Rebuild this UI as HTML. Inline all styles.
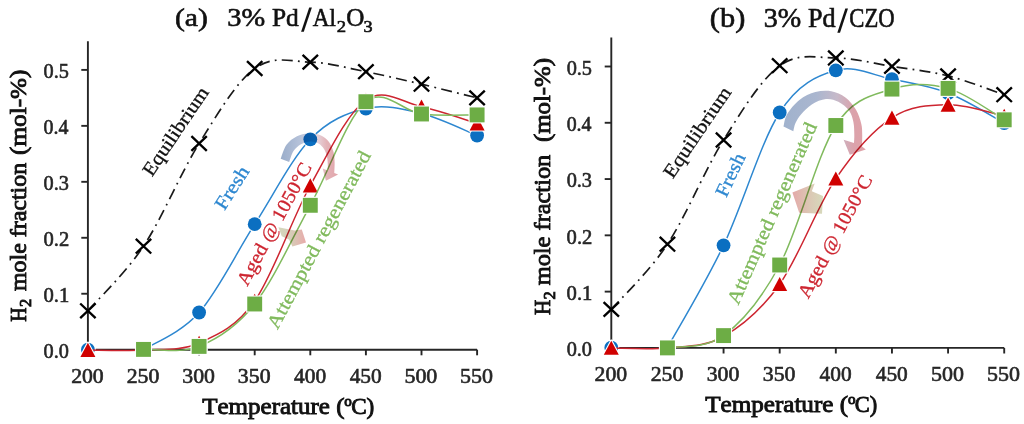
<!DOCTYPE html>
<html><head><meta charset="utf-8"><style>
html,body{margin:0;padding:0;background:#fff;}
svg{display:block;will-change:transform;}
text{font-family:"Liberation Serif",serif;font-kerning:none;}
</style></head><body>
<svg width="1024" height="424" viewBox="0 0 1024 424">
<defs>
<linearGradient id="gA" x1="0" y1="0" x2="1" y2="0"><stop offset="0" stop-color="#9aadca"/><stop offset="0.35" stop-color="#b7c3da"/><stop offset="0.6" stop-color="#e6dbe3"/><stop offset="0.8" stop-color="#e3b3b8"/><stop offset="1" stop-color="#e2a5aa"/></linearGradient>
<linearGradient id="gB" x1="0" y1="0" x2="1" y2="0"><stop offset="0" stop-color="#a0b2cd"/><stop offset="0.4" stop-color="#aab6cf"/><stop offset="0.65" stop-color="#c6b9c9"/><stop offset="0.85" stop-color="#dba2ab"/><stop offset="1" stop-color="#e0a2a8"/></linearGradient>
<linearGradient id="gS1" x1="0" y1="0" x2="1" y2="0"><stop offset="0" stop-color="#d3d8bc"/><stop offset="0.45" stop-color="#d6cdb8"/><stop offset="1" stop-color="#e8aaaa"/></linearGradient>
<linearGradient id="gS2" x1="0" y1="0" x2="1" y2="0"><stop offset="0" stop-color="#e4a9a9"/><stop offset="0.55" stop-color="#dcc7b4"/><stop offset="1" stop-color="#d6d9bb"/></linearGradient>
</defs>
<path d="M87.9,41.3 L87.9,349.7 L477.10,349.7" stroke="#262626" stroke-width="1.9" fill="none"/>
<line x1="81.30" y1="349.70" x2="87.9" y2="349.70" stroke="#262626" stroke-width="1.9"/>
<text x="43.53" y="358.10" font-size="20.8" font-weight="normal" fill="#262626" textLength="25.34" lengthAdjust="spacingAndGlyphs" stroke="#262626" stroke-width="0.6">0.0</text>
<line x1="81.30" y1="293.74" x2="87.9" y2="293.74" stroke="#262626" stroke-width="1.9"/>
<text x="43.51" y="302.14" font-size="20.8" font-weight="normal" fill="#262626" textLength="25.83" lengthAdjust="spacingAndGlyphs" stroke="#262626" stroke-width="0.6">0.1</text>
<line x1="81.30" y1="237.78" x2="87.9" y2="237.78" stroke="#262626" stroke-width="1.9"/>
<text x="43.52" y="246.18" font-size="20.8" font-weight="normal" fill="#262626" textLength="25.72" lengthAdjust="spacingAndGlyphs" stroke="#262626" stroke-width="0.6">0.2</text>
<line x1="81.30" y1="181.82" x2="87.9" y2="181.82" stroke="#262626" stroke-width="1.9"/>
<text x="43.53" y="190.22" font-size="20.8" font-weight="normal" fill="#262626" textLength="25.37" lengthAdjust="spacingAndGlyphs" stroke="#262626" stroke-width="0.6">0.3</text>
<line x1="81.30" y1="125.86" x2="87.9" y2="125.86" stroke="#262626" stroke-width="1.9"/>
<text x="43.54" y="134.26" font-size="20.8" font-weight="normal" fill="#262626" textLength="24.87" lengthAdjust="spacingAndGlyphs" stroke="#262626" stroke-width="0.6">0.4</text>
<line x1="81.30" y1="69.90" x2="87.9" y2="69.90" stroke="#262626" stroke-width="1.9"/>
<text x="43.53" y="78.30" font-size="20.8" font-weight="normal" fill="#262626" textLength="25.37" lengthAdjust="spacingAndGlyphs" stroke="#262626" stroke-width="0.6">0.5</text>
<line x1="87.90" y1="349.7" x2="87.90" y2="355.30" stroke="#262626" stroke-width="1.9"/>
<text x="71.15" y="382.70" font-size="20.6" font-weight="normal" fill="#262626" textLength="32.58" lengthAdjust="spacingAndGlyphs" stroke="#262626" stroke-width="0.6">200</text>
<line x1="143.50" y1="349.7" x2="143.50" y2="355.30" stroke="#262626" stroke-width="1.9"/>
<text x="126.75" y="382.70" font-size="20.6" font-weight="normal" fill="#262626" textLength="32.58" lengthAdjust="spacingAndGlyphs" stroke="#262626" stroke-width="0.6">250</text>
<line x1="199.10" y1="349.7" x2="199.10" y2="355.30" stroke="#262626" stroke-width="1.9"/>
<text x="182.26" y="382.70" font-size="20.6" font-weight="normal" fill="#262626" textLength="32.67" lengthAdjust="spacingAndGlyphs" stroke="#262626" stroke-width="0.6">300</text>
<line x1="254.70" y1="349.7" x2="254.70" y2="355.30" stroke="#262626" stroke-width="1.9"/>
<text x="237.86" y="382.70" font-size="20.6" font-weight="normal" fill="#262626" textLength="32.67" lengthAdjust="spacingAndGlyphs" stroke="#262626" stroke-width="0.6">350</text>
<line x1="310.30" y1="349.7" x2="310.30" y2="355.30" stroke="#262626" stroke-width="1.9"/>
<text x="294.08" y="382.70" font-size="20.6" font-weight="normal" fill="#262626" textLength="32.03" lengthAdjust="spacingAndGlyphs" stroke="#262626" stroke-width="0.6">400</text>
<line x1="365.90" y1="349.7" x2="365.90" y2="355.30" stroke="#262626" stroke-width="1.9"/>
<text x="349.68" y="382.70" font-size="20.6" font-weight="normal" fill="#262626" textLength="32.03" lengthAdjust="spacingAndGlyphs" stroke="#262626" stroke-width="0.6">450</text>
<line x1="421.50" y1="349.7" x2="421.50" y2="355.30" stroke="#262626" stroke-width="1.9"/>
<text x="404.43" y="382.70" font-size="20.6" font-weight="normal" fill="#262626" textLength="32.91" lengthAdjust="spacingAndGlyphs" stroke="#262626" stroke-width="0.6">500</text>
<line x1="477.10" y1="349.7" x2="477.10" y2="355.30" stroke="#262626" stroke-width="1.9"/>
<text x="460.03" y="382.70" font-size="20.6" font-weight="normal" fill="#262626" textLength="32.91" lengthAdjust="spacingAndGlyphs" stroke="#262626" stroke-width="0.6">550</text>
<path d="M611.3,37.5 L611.3,347.9 L1004.21,347.9" stroke="#262626" stroke-width="1.9" fill="none"/>
<line x1="604.70" y1="347.90" x2="611.3" y2="347.90" stroke="#262626" stroke-width="1.9"/>
<text x="566.63" y="356.30" font-size="20.8" font-weight="normal" fill="#262626" textLength="25.34" lengthAdjust="spacingAndGlyphs" stroke="#262626" stroke-width="0.6">0.0</text>
<line x1="604.70" y1="291.62" x2="611.3" y2="291.62" stroke="#262626" stroke-width="1.9"/>
<text x="566.61" y="300.02" font-size="20.8" font-weight="normal" fill="#262626" textLength="25.83" lengthAdjust="spacingAndGlyphs" stroke="#262626" stroke-width="0.6">0.1</text>
<line x1="604.70" y1="235.34" x2="611.3" y2="235.34" stroke="#262626" stroke-width="1.9"/>
<text x="566.62" y="243.74" font-size="20.8" font-weight="normal" fill="#262626" textLength="25.72" lengthAdjust="spacingAndGlyphs" stroke="#262626" stroke-width="0.6">0.2</text>
<line x1="604.70" y1="179.06" x2="611.3" y2="179.06" stroke="#262626" stroke-width="1.9"/>
<text x="566.63" y="187.46" font-size="20.8" font-weight="normal" fill="#262626" textLength="25.37" lengthAdjust="spacingAndGlyphs" stroke="#262626" stroke-width="0.6">0.3</text>
<line x1="604.70" y1="122.78" x2="611.3" y2="122.78" stroke="#262626" stroke-width="1.9"/>
<text x="566.64" y="131.18" font-size="20.8" font-weight="normal" fill="#262626" textLength="24.87" lengthAdjust="spacingAndGlyphs" stroke="#262626" stroke-width="0.6">0.4</text>
<line x1="604.70" y1="66.50" x2="611.3" y2="66.50" stroke="#262626" stroke-width="1.9"/>
<text x="566.63" y="74.90" font-size="20.8" font-weight="normal" fill="#262626" textLength="25.37" lengthAdjust="spacingAndGlyphs" stroke="#262626" stroke-width="0.6">0.5</text>
<line x1="611.30" y1="347.9" x2="611.30" y2="353.50" stroke="#262626" stroke-width="1.9"/>
<text x="594.55" y="381.00" font-size="20.6" font-weight="normal" fill="#262626" textLength="32.58" lengthAdjust="spacingAndGlyphs" stroke="#262626" stroke-width="0.6">200</text>
<line x1="667.43" y1="347.9" x2="667.43" y2="353.50" stroke="#262626" stroke-width="1.9"/>
<text x="650.68" y="381.00" font-size="20.6" font-weight="normal" fill="#262626" textLength="32.58" lengthAdjust="spacingAndGlyphs" stroke="#262626" stroke-width="0.6">250</text>
<line x1="723.56" y1="347.9" x2="723.56" y2="353.50" stroke="#262626" stroke-width="1.9"/>
<text x="706.72" y="381.00" font-size="20.6" font-weight="normal" fill="#262626" textLength="32.67" lengthAdjust="spacingAndGlyphs" stroke="#262626" stroke-width="0.6">300</text>
<line x1="779.69" y1="347.9" x2="779.69" y2="353.50" stroke="#262626" stroke-width="1.9"/>
<text x="762.85" y="381.00" font-size="20.6" font-weight="normal" fill="#262626" textLength="32.67" lengthAdjust="spacingAndGlyphs" stroke="#262626" stroke-width="0.6">350</text>
<line x1="835.82" y1="347.9" x2="835.82" y2="353.50" stroke="#262626" stroke-width="1.9"/>
<text x="819.60" y="381.00" font-size="20.6" font-weight="normal" fill="#262626" textLength="32.03" lengthAdjust="spacingAndGlyphs" stroke="#262626" stroke-width="0.6">400</text>
<line x1="891.95" y1="347.9" x2="891.95" y2="353.50" stroke="#262626" stroke-width="1.9"/>
<text x="875.73" y="381.00" font-size="20.6" font-weight="normal" fill="#262626" textLength="32.03" lengthAdjust="spacingAndGlyphs" stroke="#262626" stroke-width="0.6">450</text>
<line x1="948.08" y1="347.9" x2="948.08" y2="353.50" stroke="#262626" stroke-width="1.9"/>
<text x="931.01" y="381.00" font-size="20.6" font-weight="normal" fill="#262626" textLength="32.91" lengthAdjust="spacingAndGlyphs" stroke="#262626" stroke-width="0.6">500</text>
<line x1="1004.21" y1="347.9" x2="1004.21" y2="353.50" stroke="#262626" stroke-width="1.9"/>
<text x="987.14" y="381.00" font-size="20.6" font-weight="normal" fill="#262626" textLength="32.91" lengthAdjust="spacingAndGlyphs" stroke="#262626" stroke-width="0.6">550</text>
<path d="M87.90,310.80 C97.17,300.03 124.97,274.08 143.50,246.20 C162.03,218.32 180.57,173.12 199.10,143.50 C217.63,113.88 236.17,82.07 254.70,68.50 C273.23,54.93 291.77,61.57 310.30,62.10 C328.83,62.63 347.37,68.02 365.90,71.70 C384.43,75.38 402.97,79.83 421.50,84.20 C440.03,88.57 467.83,95.62 477.10,97.90" stroke="#1a1a1a" stroke-width="1.7" fill="none" stroke-dasharray="11 5.2 1.8 5.2"/>
<path d="M80.20,303.50 L95.60,318.10 M95.60,303.50 L80.20,318.10" stroke="#000" stroke-width="2.35" fill="none"/>
<path d="M135.80,238.90 L151.20,253.50 M151.20,238.90 L135.80,253.50" stroke="#000" stroke-width="2.35" fill="none"/>
<path d="M191.40,136.20 L206.80,150.80 M206.80,136.20 L191.40,150.80" stroke="#000" stroke-width="2.35" fill="none"/>
<path d="M247.00,61.20 L262.40,75.80 M262.40,61.20 L247.00,75.80" stroke="#000" stroke-width="2.35" fill="none"/>
<path d="M302.60,54.80 L318.00,69.40 M318.00,54.80 L302.60,69.40" stroke="#000" stroke-width="2.35" fill="none"/>
<path d="M358.20,64.40 L373.60,79.00 M373.60,64.40 L358.20,79.00" stroke="#000" stroke-width="2.35" fill="none"/>
<path d="M413.80,76.90 L429.20,91.50 M429.20,76.90 L413.80,91.50" stroke="#000" stroke-width="2.35" fill="none"/>
<path d="M469.40,90.60 L484.80,105.20 M484.80,90.60 L469.40,105.20" stroke="#000" stroke-width="2.35" fill="none"/>
<path d="M143.50,349.70 C152.77,343.50 180.57,333.42 199.10,312.50 C217.63,291.58 236.17,253.07 254.70,224.20 C273.23,195.33 291.77,158.58 310.30,139.30 C328.83,120.02 347.37,112.80 365.90,108.50 C384.43,104.20 402.97,109.00 421.50,113.50 C440.03,118.00 467.83,131.83 477.10,135.50" stroke="#2d87d0" stroke-width="1.5" fill="none"/>
<circle cx="87.90" cy="349.70" r="6.9" fill="#0b6fc1" stroke="#fff" stroke-width="2.2" paint-order="stroke"/>
<circle cx="143.50" cy="349.70" r="6.9" fill="#0b6fc1" stroke="#fff" stroke-width="2.2" paint-order="stroke"/>
<circle cx="199.10" cy="312.50" r="6.9" fill="#0b6fc1" stroke="#fff" stroke-width="2.2" paint-order="stroke"/>
<circle cx="254.70" cy="224.20" r="6.9" fill="#0b6fc1" stroke="#fff" stroke-width="2.2" paint-order="stroke"/>
<circle cx="310.30" cy="139.30" r="6.9" fill="#0b6fc1" stroke="#fff" stroke-width="2.2" paint-order="stroke"/>
<circle cx="365.90" cy="108.50" r="6.9" fill="#0b6fc1" stroke="#fff" stroke-width="2.2" paint-order="stroke"/>
<circle cx="421.50" cy="113.50" r="6.9" fill="#0b6fc1" stroke="#fff" stroke-width="2.2" paint-order="stroke"/>
<circle cx="477.10" cy="135.50" r="6.9" fill="#0b6fc1" stroke="#fff" stroke-width="2.2" paint-order="stroke"/>
<path d="M87.90,350.00 C97.17,350.00 124.97,351.17 143.50,350.00 C162.03,348.83 180.57,351.17 199.10,343.00 C217.63,334.83 236.17,327.25 254.70,301.00 C273.23,274.75 291.77,219.00 310.30,185.50 C328.83,152.00 347.37,113.12 365.90,100.00 C384.43,86.88 402.97,102.88 421.50,106.80 C440.03,110.72 467.83,120.72 477.10,123.50" stroke="#cd2530" stroke-width="1.5" fill="none"/>
<path d="M87.90,342.80 L95.40,356.90 L80.40,356.90 Z" fill="#d00000" stroke="#fff" stroke-width="2.2" stroke-linejoin="round" paint-order="stroke"/>
<path d="M143.50,342.80 L151.00,356.90 L136.00,356.90 Z" fill="#d00000" stroke="#fff" stroke-width="2.2" stroke-linejoin="round" paint-order="stroke"/>
<path d="M199.10,335.80 L206.60,349.90 L191.60,349.90 Z" fill="#d00000" stroke="#fff" stroke-width="2.2" stroke-linejoin="round" paint-order="stroke"/>
<path d="M254.70,293.80 L262.20,307.90 L247.20,307.90 Z" fill="#d00000" stroke="#fff" stroke-width="2.2" stroke-linejoin="round" paint-order="stroke"/>
<path d="M310.30,178.30 L317.80,192.40 L302.80,192.40 Z" fill="#d00000" stroke="#fff" stroke-width="2.2" stroke-linejoin="round" paint-order="stroke"/>
<path d="M365.90,92.80 L373.40,106.90 L358.40,106.90 Z" fill="#d00000" stroke="#fff" stroke-width="2.2" stroke-linejoin="round" paint-order="stroke"/>
<path d="M421.50,99.60 L429.00,113.70 L414.00,113.70 Z" fill="#d00000" stroke="#fff" stroke-width="2.2" stroke-linejoin="round" paint-order="stroke"/>
<path d="M477.10,116.30 L484.60,130.40 L469.60,130.40 Z" fill="#d00000" stroke="#fff" stroke-width="2.2" stroke-linejoin="round" paint-order="stroke"/>
<path d="M143.50,349.40 C152.77,348.90 180.57,353.97 199.10,346.40 C217.63,338.83 236.17,327.52 254.70,304.00 C273.23,280.48 291.77,239.02 310.30,205.30 C328.83,171.58 347.37,116.92 365.90,101.70 C384.43,86.48 402.97,111.80 421.50,114.00 C440.03,116.20 467.83,114.75 477.10,114.90" stroke="#80ba5d" stroke-width="1.5" fill="none"/>
<rect x="136.05" y="341.95" width="14.9" height="14.9" fill="#6dad45" stroke="#fff" stroke-width="2.2" paint-order="stroke"/>
<rect x="191.65" y="338.95" width="14.9" height="14.9" fill="#6dad45" stroke="#fff" stroke-width="2.2" paint-order="stroke"/>
<rect x="247.25" y="296.55" width="14.9" height="14.9" fill="#6dad45" stroke="#fff" stroke-width="2.2" paint-order="stroke"/>
<rect x="302.85" y="197.85" width="14.9" height="14.9" fill="#6dad45" stroke="#fff" stroke-width="2.2" paint-order="stroke"/>
<rect x="358.45" y="94.25" width="14.9" height="14.9" fill="#6dad45" stroke="#fff" stroke-width="2.2" paint-order="stroke"/>
<rect x="414.05" y="106.55" width="14.9" height="14.9" fill="#6dad45" stroke="#fff" stroke-width="2.2" paint-order="stroke"/>
<rect x="469.65" y="107.45" width="14.9" height="14.9" fill="#6dad45" stroke="#fff" stroke-width="2.2" paint-order="stroke"/>
<path d="M611.30,309.40 C620.65,298.53 648.72,272.43 667.43,244.20 C686.14,215.97 704.85,169.75 723.56,140.00 C742.27,110.25 760.98,79.37 779.69,65.70 C798.40,52.03 817.11,57.88 835.82,58.00 C854.53,58.12 873.24,63.42 891.95,66.40 C910.66,69.38 929.37,71.18 948.08,75.90 C966.79,80.62 994.86,91.57 1004.21,94.70" stroke="#1a1a1a" stroke-width="1.7" fill="none" stroke-dasharray="11 5.2 1.8 5.2"/>
<path d="M603.60,302.10 L619.00,316.70 M619.00,302.10 L603.60,316.70" stroke="#000" stroke-width="2.35" fill="none"/>
<path d="M659.73,236.90 L675.13,251.50 M675.13,236.90 L659.73,251.50" stroke="#000" stroke-width="2.35" fill="none"/>
<path d="M715.86,132.70 L731.26,147.30 M731.26,132.70 L715.86,147.30" stroke="#000" stroke-width="2.35" fill="none"/>
<path d="M771.99,58.40 L787.39,73.00 M787.39,58.40 L771.99,73.00" stroke="#000" stroke-width="2.35" fill="none"/>
<path d="M828.12,50.70 L843.52,65.30 M843.52,50.70 L828.12,65.30" stroke="#000" stroke-width="2.35" fill="none"/>
<path d="M884.25,59.10 L899.65,73.70 M899.65,59.10 L884.25,73.70" stroke="#000" stroke-width="2.35" fill="none"/>
<path d="M940.38,68.60 L955.78,83.20 M955.78,68.60 L940.38,83.20" stroke="#000" stroke-width="2.35" fill="none"/>
<path d="M996.51,87.40 L1011.91,102.00 M1011.91,87.40 L996.51,102.00" stroke="#000" stroke-width="2.35" fill="none"/>
<path d="M667.43,347.70 C676.78,330.63 704.85,284.50 723.56,245.30 C742.27,206.10 760.98,141.67 779.69,112.50 C798.40,83.33 817.11,75.85 835.82,70.30 C854.53,64.75 873.24,75.42 891.95,79.20 C910.66,82.98 929.37,85.70 948.08,93.00 C966.79,100.30 994.86,118.00 1004.21,123.00" stroke="#2d87d0" stroke-width="1.5" fill="none"/>
<circle cx="611.30" cy="347.70" r="6.9" fill="#0b6fc1" stroke="#fff" stroke-width="2.2" paint-order="stroke"/>
<circle cx="667.43" cy="347.70" r="6.9" fill="#0b6fc1" stroke="#fff" stroke-width="2.2" paint-order="stroke"/>
<circle cx="723.56" cy="245.30" r="6.9" fill="#0b6fc1" stroke="#fff" stroke-width="2.2" paint-order="stroke"/>
<circle cx="779.69" cy="112.50" r="6.9" fill="#0b6fc1" stroke="#fff" stroke-width="2.2" paint-order="stroke"/>
<circle cx="835.82" cy="70.30" r="6.9" fill="#0b6fc1" stroke="#fff" stroke-width="2.2" paint-order="stroke"/>
<circle cx="891.95" cy="79.20" r="6.9" fill="#0b6fc1" stroke="#fff" stroke-width="2.2" paint-order="stroke"/>
<circle cx="948.08" cy="93.00" r="6.9" fill="#0b6fc1" stroke="#fff" stroke-width="2.2" paint-order="stroke"/>
<circle cx="1004.21" cy="123.00" r="6.9" fill="#0b6fc1" stroke="#fff" stroke-width="2.2" paint-order="stroke"/>
<path d="M611.30,347.90 C620.65,347.90 648.72,349.80 667.43,347.90 C686.14,346.00 704.85,347.12 723.56,336.50 C742.27,325.88 760.98,310.50 779.69,284.20 C798.40,257.90 817.11,206.43 835.82,178.70 C854.53,150.97 873.24,130.12 891.95,117.80 C910.66,105.48 929.37,105.10 948.08,104.80 C966.79,104.50 994.86,114.13 1004.21,116.00" stroke="#cd2530" stroke-width="1.5" fill="none"/>
<path d="M611.30,340.70 L618.80,354.80 L603.80,354.80 Z" fill="#d00000" stroke="#fff" stroke-width="2.2" stroke-linejoin="round" paint-order="stroke"/>
<path d="M667.43,340.70 L674.93,354.80 L659.93,354.80 Z" fill="#d00000" stroke="#fff" stroke-width="2.2" stroke-linejoin="round" paint-order="stroke"/>
<path d="M723.56,329.30 L731.06,343.40 L716.06,343.40 Z" fill="#d00000" stroke="#fff" stroke-width="2.2" stroke-linejoin="round" paint-order="stroke"/>
<path d="M779.69,277.00 L787.19,291.10 L772.19,291.10 Z" fill="#d00000" stroke="#fff" stroke-width="2.2" stroke-linejoin="round" paint-order="stroke"/>
<path d="M835.82,171.50 L843.32,185.60 L828.32,185.60 Z" fill="#d00000" stroke="#fff" stroke-width="2.2" stroke-linejoin="round" paint-order="stroke"/>
<path d="M891.95,110.60 L899.45,124.70 L884.45,124.70 Z" fill="#d00000" stroke="#fff" stroke-width="2.2" stroke-linejoin="round" paint-order="stroke"/>
<path d="M948.08,97.60 L955.58,111.70 L940.58,111.70 Z" fill="#d00000" stroke="#fff" stroke-width="2.2" stroke-linejoin="round" paint-order="stroke"/>
<path d="M1004.21,108.80 L1011.71,122.90 L996.71,122.90 Z" fill="#d00000" stroke="#fff" stroke-width="2.2" stroke-linejoin="round" paint-order="stroke"/>
<path d="M667.43,347.90 C676.78,345.85 704.85,349.42 723.56,335.60 C742.27,321.78 760.98,300.02 779.69,265.00 C798.40,229.98 817.11,154.82 835.82,125.50 C853.82,97.30 873.24,95.28 891.95,89.10 C910.66,82.92 929.37,83.28 948.08,88.40 C966.79,93.52 994.86,114.57 1004.21,119.80" stroke="#80ba5d" stroke-width="1.5" fill="none"/>
<rect x="659.98" y="340.45" width="14.9" height="14.9" fill="#6dad45" stroke="#fff" stroke-width="2.2" paint-order="stroke"/>
<rect x="716.11" y="328.15" width="14.9" height="14.9" fill="#6dad45" stroke="#fff" stroke-width="2.2" paint-order="stroke"/>
<rect x="772.24" y="257.55" width="14.9" height="14.9" fill="#6dad45" stroke="#fff" stroke-width="2.2" paint-order="stroke"/>
<rect x="828.37" y="118.05" width="14.9" height="14.9" fill="#6dad45" stroke="#fff" stroke-width="2.2" paint-order="stroke"/>
<rect x="884.50" y="81.65" width="14.9" height="14.9" fill="#6dad45" stroke="#fff" stroke-width="2.2" paint-order="stroke"/>
<rect x="940.63" y="80.95" width="14.9" height="14.9" fill="#6dad45" stroke="#fff" stroke-width="2.2" paint-order="stroke"/>
<rect x="996.76" y="112.35" width="14.9" height="14.9" fill="#6dad45" stroke="#fff" stroke-width="2.2" paint-order="stroke"/>
<g style="mix-blend-mode:multiply">
<path d="M280.70,158.80 C281.67,156.47 283.78,148.57 286.50,144.80 C289.22,141.03 293.08,138.13 297.00,136.20 C300.92,134.27 306.00,133.32 310.00,133.20 C314.00,133.08 317.83,134.03 321.00,135.50 C324.17,136.97 326.92,139.25 329.00,142.00 C331.08,144.75 332.57,148.67 333.50,152.00 C334.43,155.33 334.47,158.50 334.60,162.00 C334.73,165.50 334.35,171.17 334.30,173.00 L338.1,174.5 L325.9,180.8 L322.7,168.6 L327.6,170.4 L327.60,170.40 C327.63,169.50 327.90,167.23 327.80,165.00 C327.70,162.77 327.63,159.67 327.00,157.00 C326.37,154.33 325.42,151.25 324.00,149.00 C322.58,146.75 320.75,144.75 318.50,143.50 C316.25,142.25 313.42,141.38 310.50,141.50 C307.58,141.62 303.83,142.62 301.00,144.20 C298.17,145.78 295.47,148.03 293.50,151.00 C291.53,153.97 289.92,160.17 289.20,162.00 Z" fill="url(#gA)" fill-opacity="1"/>
<path d="M783.50,126.50 C784.10,124.45 784.45,118.62 787.10,114.20 C789.75,109.78 794.68,103.68 799.40,100.00 C804.12,96.32 810.08,93.57 815.40,92.10 C820.72,90.63 826.30,90.32 831.30,91.20 C836.30,92.08 841.28,94.30 845.40,97.40 C849.52,100.50 853.35,105.38 856.00,109.80 C858.65,114.22 860.27,119.78 861.30,123.90 C862.33,128.02 862.08,130.73 862.20,134.50 C862.32,138.27 862.03,144.50 862.00,146.50 L865.8,149.5 L849.8,154.8 L843.6,139.8 L854.0,143.0 L854.00,143.00 C854.05,141.58 854.40,137.98 854.30,134.50 C854.20,131.02 854.28,126.08 853.40,122.10 C852.52,118.12 851.52,113.98 849.00,110.60 C846.48,107.22 842.13,103.72 838.30,101.80 C834.47,99.88 830.42,98.67 826.00,99.10 C821.58,99.53 815.93,101.88 811.80,104.40 C807.67,106.92 803.92,111.10 801.20,114.20 C798.48,117.30 796.82,120.15 795.50,123.00 C794.18,125.85 793.67,129.92 793.30,131.30 Z" fill="url(#gB)" fill-opacity="1"/>
<path d="M278.4,227.2 L294.6,230.6 L301.8,229.4 L306,242.6 L292.4,246.4 L289,239.5 L281.8,236.2 Z" fill="url(#gS1)"/>
<path d="M792.4,192.6 L814.7,183.4 L811.8,191.2 L823,196 L822,213.8 L799.2,212.8 Z" fill="url(#gS2)"/>
</g>
<text x="175.00" y="26.30" font-size="26" font-weight="normal" fill="#111" textLength="32.91" lengthAdjust="spacingAndGlyphs" stroke="#111" stroke-width="0.6">(a)</text>
<text x="227.24" y="26.30" font-size="26" font-weight="normal" fill="#111" textLength="37.93" lengthAdjust="spacingAndGlyphs" stroke="#111" stroke-width="0.6">3%</text>
<text x="271.97" y="26.30" font-size="26" font-weight="normal" fill="#111" textLength="26.84" lengthAdjust="spacingAndGlyphs" stroke="#111" stroke-width="0.6">Pd</text>
<path d="M301.1,31.7 L303.8,31.7 L311.9,7.5 L309.2,7.5 Z" fill="#111"/>
<text x="312.77" y="26.30" font-size="26" font-weight="normal" fill="#111" textLength="23.19" lengthAdjust="spacingAndGlyphs" stroke="#111" stroke-width="0.6">Al</text>
<text x="336.88" y="31.60" font-size="17" font-weight="normal" fill="#111" textLength="9.35" lengthAdjust="spacingAndGlyphs" stroke="#111" stroke-width="0.6">2</text>
<text x="346.27" y="26.30" font-size="26" font-weight="normal" fill="#111" textLength="18.16" lengthAdjust="spacingAndGlyphs" stroke="#111" stroke-width="0.6">O</text>
<text x="363.63" y="32.00" font-size="17" font-weight="normal" fill="#111" textLength="9.08" lengthAdjust="spacingAndGlyphs" stroke="#111" stroke-width="0.6">3</text>
<text x="709.86" y="27.40" font-size="26.5" font-weight="normal" fill="#111" textLength="35.47" lengthAdjust="spacingAndGlyphs" stroke="#111" stroke-width="0.6">(b)</text>
<text x="763.65" y="27.40" font-size="26.5" font-weight="normal" fill="#111" textLength="37.51" lengthAdjust="spacingAndGlyphs" stroke="#111" stroke-width="0.6">3%</text>
<text x="808.05" y="27.40" font-size="26.5" font-weight="normal" fill="#111" textLength="27.67" lengthAdjust="spacingAndGlyphs" stroke="#111" stroke-width="0.6">Pd</text>
<path d="M837.3,32.8 L840.0,32.8 L848.0,8.6 L845.3,8.6 Z" fill="#111"/>
<text x="849.27" y="27.40" font-size="26.5" font-weight="normal" fill="#111" textLength="45.36" lengthAdjust="spacingAndGlyphs" stroke="#111" stroke-width="0.6">CZO</text>
<text x="202.25" y="414.20" font-size="23.4" font-weight="normal" fill="#111" textLength="142.26" lengthAdjust="spacingAndGlyphs" stroke="#111" stroke-width="0.9">Temperature (</text>
<text x="344.32" y="406.40" font-size="14" font-weight="normal" fill="#111" textLength="7.55" lengthAdjust="spacingAndGlyphs" stroke="#111" stroke-width="0.9">o</text>
<text x="351.15" y="414.20" font-size="23.4" font-weight="normal" fill="#111" textLength="23.17" lengthAdjust="spacingAndGlyphs" stroke="#111" stroke-width="0.9">C)</text>
<text x="705.15" y="411.90" font-size="23.4" font-weight="normal" fill="#111" textLength="142.96" lengthAdjust="spacingAndGlyphs" stroke="#111" stroke-width="0.9">Temperature (</text>
<text x="847.92" y="404.20" font-size="14" font-weight="normal" fill="#111" textLength="7.55" lengthAdjust="spacingAndGlyphs" stroke="#111" stroke-width="0.9">o</text>
<text x="854.78" y="411.90" font-size="23.4" font-weight="normal" fill="#111" textLength="22.40" lengthAdjust="spacingAndGlyphs" stroke="#111" stroke-width="0.9">C)</text>
<g transform="translate(26.4,0) rotate(-90)">
<text x="-321.77" y="0.00" font-size="24" font-weight="normal" fill="#111" textLength="14.35" lengthAdjust="spacingAndGlyphs" stroke="#111" stroke-width="0.9">H</text>
<text x="-307.02" y="5.00" font-size="16" font-weight="normal" fill="#111" textLength="8.23" lengthAdjust="spacingAndGlyphs" stroke="#111" stroke-width="0.9">2</text>
<text x="-291.10" y="0.00" font-size="24" font-weight="normal" fill="#111" textLength="128.26" lengthAdjust="spacingAndGlyphs" stroke="#111" stroke-width="0.9">mole fraction</text>
<text x="-154.91" y="0.00" font-size="24" font-weight="normal" fill="#111" textLength="85.31" lengthAdjust="spacingAndGlyphs" stroke="#111" stroke-width="0.9">(mol-%)</text>
</g>
<g transform="translate(549.8,0) rotate(-90)">
<text x="-315.11" y="0.00" font-size="24" font-weight="normal" fill="#111" textLength="15.22" lengthAdjust="spacingAndGlyphs" stroke="#111" stroke-width="0.9">H</text>
<text x="-299.52" y="4.90" font-size="16" font-weight="normal" fill="#111" textLength="8.23" lengthAdjust="spacingAndGlyphs" stroke="#111" stroke-width="0.9">2</text>
<text x="-285.31" y="0.00" font-size="24" font-weight="normal" fill="#111" textLength="130.58" lengthAdjust="spacingAndGlyphs" stroke="#111" stroke-width="0.9">mole fraction</text>
<text x="-141.99" y="0.00" font-size="24" font-weight="normal" fill="#111" textLength="83.98" lengthAdjust="spacingAndGlyphs" stroke="#111" stroke-width="0.9">(mol-%)</text>
</g>
<text transform="translate(151.89,177.46) rotate(-55.88)" x="0" y="0" font-size="19.3" font-weight="normal" fill="#111" stroke="#111" stroke-width="0.3" textLength="102.93" lengthAdjust="spacingAndGlyphs">Equilibrium</text>
<text transform="translate(672.69,179.50) rotate(-55.82)" x="0" y="0" font-size="19.3" font-weight="normal" fill="#111" stroke="#111" stroke-width="0.3" textLength="105.67" lengthAdjust="spacingAndGlyphs">Equilibrium</text>
<text transform="translate(224.45,211.32) rotate(-57.63)" x="0" y="0" font-size="19.3" font-weight="normal" fill="#2d87d0" stroke="#2d87d0" stroke-width="0.3" textLength="47.47" lengthAdjust="spacingAndGlyphs">Fresh</text>
<text transform="translate(726.30,198.21) rotate(-64.61)" x="0" y="0" font-size="19.3" font-weight="normal" fill="#2d87d0" stroke="#2d87d0" stroke-width="0.3" textLength="45.54" lengthAdjust="spacingAndGlyphs">Fresh</text>
<text transform="translate(247.19,286.96) rotate(-61.55)" x="0" y="0" font-size="19.3" font-weight="normal" fill="#cd2530" stroke="#cd2530" stroke-width="0.3" textLength="136.58" lengthAdjust="spacingAndGlyphs">Aged @ 1050°C</text>
<text transform="translate(808.22,299.56) rotate(-61.73)" x="0" y="0" font-size="19.3" font-weight="normal" fill="#cd2530" stroke="#cd2530" stroke-width="0.3" textLength="136.47" lengthAdjust="spacingAndGlyphs">Aged @ 1050°C</text>
<text transform="translate(277.62,330.25) rotate(-61.79)" x="0" y="0" font-size="19.3" font-weight="normal" fill="#80ba5d" stroke="#80ba5d" stroke-width="0.3" textLength="198.59" lengthAdjust="spacingAndGlyphs">Attempted regenerated</text>
<text transform="translate(738.14,305.85) rotate(-66.24)" x="0" y="0" font-size="19.3" font-weight="normal" fill="#80ba5d" stroke="#80ba5d" stroke-width="0.3" textLength="196.59" lengthAdjust="spacingAndGlyphs">Attempted regenerated</text>
</svg>
</body></html>
